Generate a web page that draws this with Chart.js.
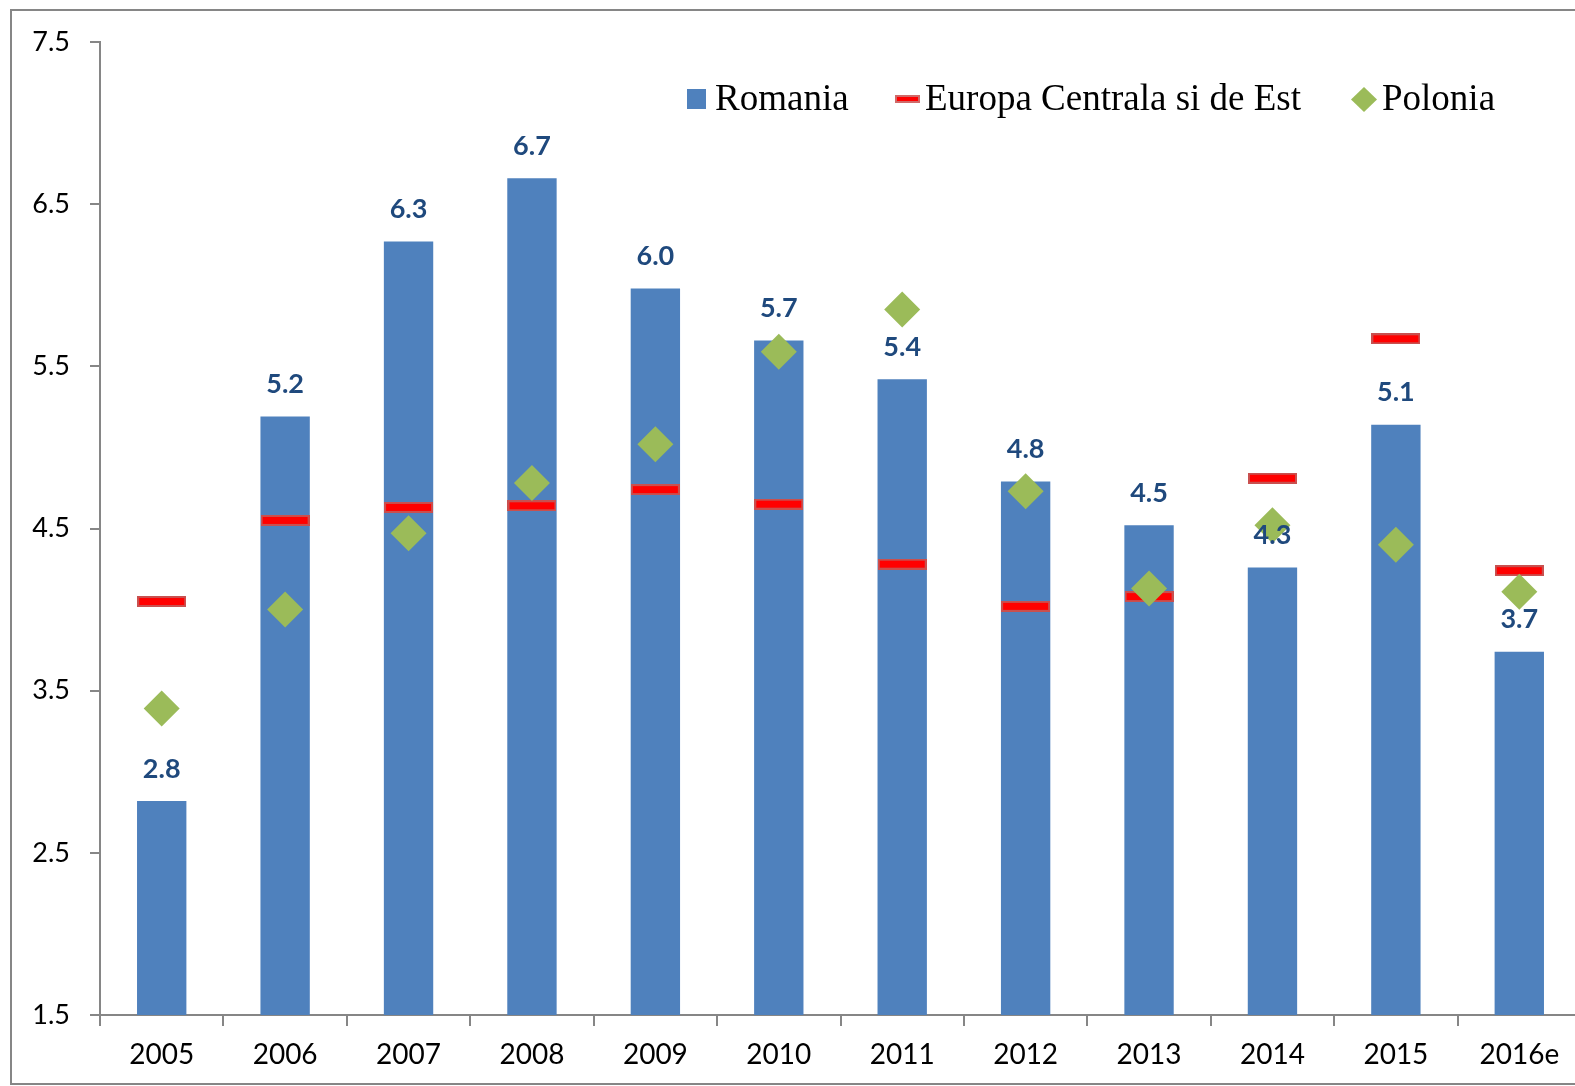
<!DOCTYPE html>
<html>
<head>
<meta charset="utf-8">
<title>Romania vs Europa Centrala si de Est vs Polonia</title>
<script src="https://cdn.jsdelivr.net/npm/chart.js@4.4.1/dist/chart.umd.min.js"></script>
<style>
  html, body { margin: 0; padding: 0; background: #fff; overflow: hidden; }
  /* the plot runs a few pixels past the right edge of the picture */
  #wrap { width: 1581px; height: 1086px; }
  #chart { display: block; }
</style>
</head>
<body>
<div id="wrap"><canvas id="chart" width="1581" height="1086"></canvas></div>
<script>
// --- data ---
const years = ['2005', '2006', '2007', '2008', '2009', '2010', '2011', '2012', '2013', '2014', '2015', '2016e'];
const romania = [2.82, 5.19, 6.27, 6.66, 5.98, 5.66, 5.42, 4.79, 4.52, 4.26, 5.14, 3.74];
const europaCE = [4.05, 4.55, 4.63, 4.64, 4.74, 4.65, 4.28, 4.02, 4.08, 4.81, 5.67, 4.24];
const polonia = [3.39, 4.00, 4.47, 4.78, 5.02, 5.59, 5.85, 4.73, 4.13, 4.52, 4.40, 4.11];
const yTicks = [1.5, 2.5, 3.5, 4.5, 5.5, 6.5, 7.5];

const BLUE = '#4f81bd';
const GREEN = '#9bbb59';
const AXIS = '#868686';

// red dash marker (same width as the bars)
function makeDash(w, h) {
  const c = document.createElement('canvas');
  c.width = w; c.height = h;
  const g = c.getContext('2d');
  g.fillStyle = '#c9504f';
  g.fillRect(0, 0, w, h);
  g.fillStyle = '#ff0000';
  g.fillRect(2, 2, w - 4, h - 4);
  return c;
}
const dash = makeDash(49, 11);

/* outer frame: left, top and bottom edges only (right edge is off the picture) */
const framePlugin = {
  id: 'frame',
  beforeDraw(chart) {
    const ctx = chart.ctx;
    ctx.save();
    ctx.strokeStyle = AXIS;
    ctx.lineWidth = 2;
    ctx.beginPath();
    ctx.moveTo(chart.width, 10);
    ctx.lineTo(11, 10);
    ctx.lineTo(11, 1084);
    ctx.lineTo(chart.width, 1084);
    ctx.stroke();
    ctx.restore();
  }
};

/* value labels above the bars */
const barLabels = {
  id: 'barLabels',
  afterDatasetsDraw(chart) {
    const ctx = chart.ctx;
    const meta = chart.getDatasetMeta(0);
    ctx.save();
    ctx.font = 'bold 27px Lato';
    ctx.fillStyle = '#1f497d';
    ctx.textAlign = 'center';
    ctx.textBaseline = 'middle';
    meta.data.forEach((bar, i) => {
      ctx.fillText(romania[i].toFixed(1), bar.x, bar.y - 32);
    });
    ctx.restore();
  }
};

/* legend inside the plot, top right */
const legendPlugin = {
  id: 'customLegend',
  afterDraw(chart) {
    const ctx = chart.ctx;
    const base = 110;
    ctx.save();
    ctx.font = '37px "Liberation Serif"';
    ctx.textBaseline = 'alphabetic';
    // Romania
    ctx.fillStyle = BLUE;
    ctx.fillRect(687, 89, 19, 20);
    ctx.fillStyle = '#000';
    ctx.fillText('Romania', 715, base);
    // Europa Centrala si de Est
    ctx.fillStyle = '#d06a69';
    ctx.fillRect(895, 95, 25, 8);
    ctx.fillStyle = '#ff0000';
    ctx.fillRect(897, 97, 21, 4);
    ctx.fillStyle = '#000';
    ctx.fillText('Europa Centrala si de Est', 925, base);
    // Polonia
    ctx.fillStyle = GREEN;
    ctx.beginPath();
    ctx.moveTo(1364, 87);
    ctx.lineTo(1377, 99.5);
    ctx.lineTo(1364, 112);
    ctx.lineTo(1351, 99.5);
    ctx.closePath();
    ctx.fill();
    ctx.fillStyle = '#000';
    ctx.fillText('Polonia', 1382, base);
    ctx.restore();
  }
};

new Chart(document.getElementById('chart'), {
  data: {
    labels: years,
    datasets: [
      {
        type: 'bar',
        label: 'Romania',
        data: romania,
        backgroundColor: BLUE,
        borderWidth: 0,
        barPercentage: 0.4,
        categoryPercentage: 1.0,
        order: 3
      },
      {
        type: 'line',
        label: 'Europa Centrala si de Est',
        data: europaCE,
        showLine: false,
        pointStyle: dash,
        pointRadius: 6,
        order: 2
      },
      {
        type: 'line',
        label: 'Polonia',
        data: polonia,
        showLine: false,
        pointStyle: 'rectRot',
        pointRadius: 18,
        pointBackgroundColor: GREEN,
        pointBorderWidth: 0,
        pointBorderColor: GREEN,
        order: 1
      }
    ]
  },
  options: {
    responsive: false,
    animation: false,
    layout: { autoPadding: false, padding: { top: 42, right: 0, bottom: 11, left: 0 } },
    plugins: {
      legend: { display: false },
      tooltip: { enabled: false }
    },
    scales: {
      x: {
        offset: true,
        grid: { display: true, drawOnChartArea: false, offset: true, tickLength: 11, color: AXIS, lineWidth: 2 },
        border: { color: AXIS, width: 2 },
        ticks: { color: '#000', font: { family: 'Lato', size: 28 }, padding: 12, maxRotation: 0 },
        afterFit(scale) { scale.height = 60; }
      },
      y: {
        min: yTicks[0],
        max: yTicks[yTicks.length - 1],
        afterBuildTicks(scale) { scale.ticks = yTicks.map(v => ({ value: v })); },
        grid: { display: true, drawOnChartArea: false, tickLength: 10, color: AXIS, lineWidth: 2 },
        border: { color: AXIS, width: 2 },
        ticks: {
          color: '#000',
          font: { family: 'Lato', size: 27 },
          padding: 20,
          callback: v => Number(v).toFixed(1)
        },
        afterFit(scale) { scale.width = 100; }
      }
    }
  },
  plugins: [framePlugin, barLabels, legendPlugin]
});
</script>
</body>
</html>
